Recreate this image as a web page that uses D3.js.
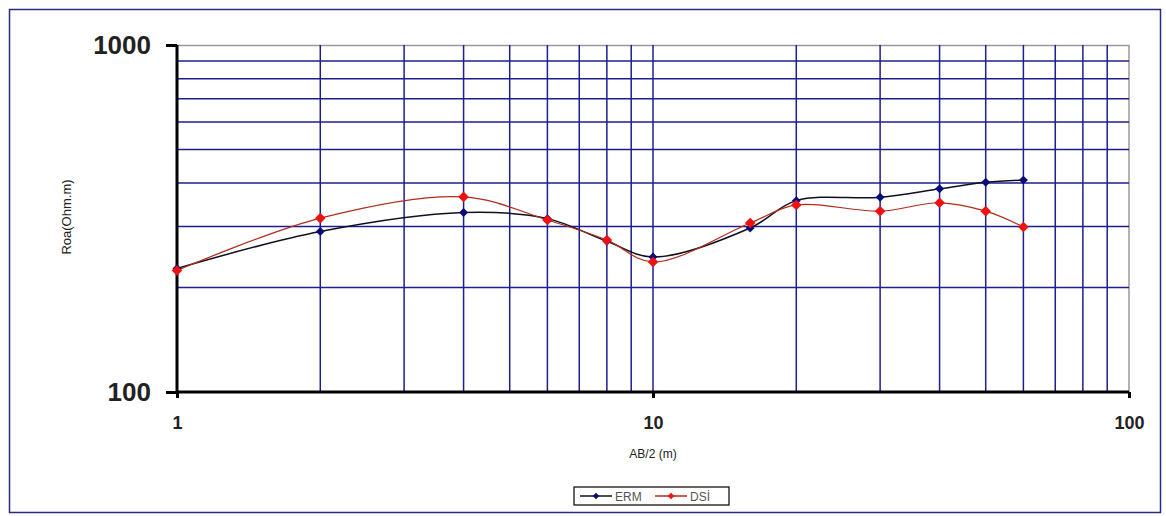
<!DOCTYPE html>
<html>
<head>
<meta charset="utf-8">
<script src="https://cdn.jsdelivr.net/npm/d3@7"></script>
<style>
  body { margin: 0; background: #fff; }
  svg { font-family: "Liberation Sans", Arial, sans-serif; }
</style>
</head>
<body>
<div id="chart"></div>
<script>
// data
var abHalf = [1, 2, 4, 6, 8, 10, 16, 20, 30, 40, 50, 60];
var ermValues = [227, 290, 329, 316, 272, 245, 297, 356, 364, 385, 402, 408];
var dsiValues = [224, 317, 365, 313, 274, 237, 307, 346, 332, 351, 332, 299];
var xTicks = [1, 10, 100];
var yTicks = [100, 1000];
var xGrid = [2, 3, 4, 5, 6, 7, 8, 9, 10, 20, 30, 40, 50, 60, 70, 80, 90];
var yGrid = [200, 300, 400, 500, 600, 700, 800, 900];

var svgWidth = 1166;
var svgHeight = 516;

var margin = { top: 45, right: 37, bottom: 124, left: 177 };
var width = svgWidth - margin.left - margin.right;
var height = svgHeight - margin.top - margin.bottom;

var svg = d3.select("#chart")
  .append("svg")
  .attr("width", svgWidth)
  .attr("height", svgHeight);

// outer frame
svg.append("rect")
  .attr("x", 9.5).attr("y", 9.5)
  .attr("width", 1151).attr("height", 503)
  .attr("fill", "none")
  .attr("stroke", "#2a2a80")
  .attr("stroke-width", 1.5);

var chartGroup = svg.append("g")
  .attr("transform", `translate(${margin.left}, ${margin.top})`);

var xScale = d3.scaleLog().domain([1, 100]).range([0, width]);
var yScale = d3.scaleLog().domain([100, 1000]).range([height, 0]);

// plot area border (top/right gray)
chartGroup.append("path")
  .attr("d", `M0,0.5H${width}V${height}`)
  .attr("fill", "none")
  .attr("stroke", "#999")
  .attr("stroke-width", 1.5);

// grid
chartGroup.selectAll(".vgrid")
  .data(xGrid)
  .enter().append("line")
  .attr("class", "vgrid")
  .attr("x1", d => xScale(d)).attr("x2", d => xScale(d))
  .attr("y1", 0).attr("y2", height)
  .attr("stroke", "#1e1e8e")
  .attr("stroke-width", 1.5);

chartGroup.selectAll(".hgrid")
  .data(yGrid)
  .enter().append("line")
  .attr("class", "hgrid")
  .attr("x1", 0).attr("x2", width)
  .attr("y1", d => yScale(d)).attr("y2", d => yScale(d))
  .attr("stroke", "#1e1e8e")
  .attr("stroke-width", 1.5);

// axes
var bottomAxis = d3.axisBottom(xScale)
  .tickValues(xTicks)
  .tickFormat(d3.format("d"))
  .tickSize(6)
  .tickPadding(18);
var leftAxis = d3.axisLeft(yScale)
  .tickValues(yTicks)
  .tickFormat(d3.format("d"))
  .tickSize(11)
  .tickPadding(15);

var xAxisG = chartGroup.append("g")
  .attr("transform", `translate(0, ${height})`)
  .call(bottomAxis);
xAxisG.selectAll("text")
  .attr("font-size", 18).attr("font-weight", "bold").attr("fill", "#222");

var yAxisG = chartGroup.append("g")
  .call(leftAxis);
yAxisG.selectAll("text")
  .attr("font-size", 26).attr("font-weight", "bold").attr("fill", "#222");

[xAxisG, yAxisG].forEach(g => {
  g.select(".domain").attr("stroke", "#000").attr("stroke-width", 3);
  g.selectAll(".tick line").attr("stroke", "#000").attr("stroke-width", 3);
});
yAxisG.select(".domain").attr("d", `M0,0V${height}`);
xAxisG.select(".domain").attr("d", `M0,0H${width}`);

// series
var series = [
  { name: "ERM", values: ermValues, line: "#101020", marker: "#0a0a78", lw: 1.5, size: 40 },
  { name: "DSİ", values: dsiValues, line: "#b52a1a", marker: "#ee1111", lw: 1.2, size: 56 }
];

var lineGen = d3.line()
  .x(d => xScale(d[0]))
  .y(d => yScale(d[1]))
  .curve(d3.curveCatmullRom.alpha(0.5));

series.forEach(s => {
  var pts = abHalf.map((x, i) => [x, s.values[i]]);
  chartGroup.append("path")
    .datum(pts)
    .attr("d", lineGen)
    .attr("fill", "none")
    .attr("stroke", s.line)
    .attr("stroke-width", s.lw);
});

series.forEach(s => {
  var pts = abHalf.map((x, i) => [x, s.values[i]]);
  chartGroup.selectAll(null)
    .data(pts)
    .enter().append("path")
    .attr("d", d3.symbol().type(d3.symbolSquare).size(s.size))
    .attr("transform", d => `translate(${xScale(d[0])},${yScale(d[1])}) rotate(45)`)
    .attr("fill", s.marker);
});

// axis titles
svg.append("text")
  .attr("transform", "translate(71, 217) rotate(-90)")
  .attr("text-anchor", "middle")
  .attr("font-size", 13)
  .attr("fill", "#222")
  .text("Roa(Ohm.m)");

svg.append("text")
  .attr("x", 653).attr("y", 458)
  .attr("text-anchor", "middle")
  .attr("font-size", 12)
  .attr("fill", "#222")
  .text("AB/2 (m)");

// legend
var legend = svg.append("g").attr("transform", "translate(574, 487)");
legend.append("rect")
  .attr("width", 155).attr("height", 18)
  .attr("fill", "#fff")
  .attr("stroke", "#000")
  .attr("stroke-width", 1.2);

series.forEach((s, i) => {
  var g = legend.append("g").attr("transform", `translate(${6 + i * 75}, 9)`);
  g.append("line")
    .attr("x1", 0).attr("x2", 32)
    .attr("stroke", s.line).attr("stroke-width", 1.5);
  g.append("path")
    .attr("d", d3.symbol().type(d3.symbolSquare).size(22))
    .attr("transform", "translate(16,0) rotate(45)")
    .attr("fill", s.marker);
  g.append("text")
    .attr("x", 35).attr("y", 4.5)
    .attr("font-size", 12)
    .attr("fill", "#555")
    .text(s.name);
});
</script>
</body>
</html>
